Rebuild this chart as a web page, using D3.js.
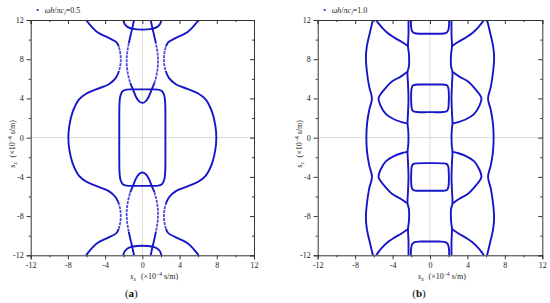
<!DOCTYPE html>
<html>
<head>
<meta charset="utf-8">
<script src="https://cdn.jsdelivr.net/npm/d3@7"></script>
<style>
  body { margin: 0; background: #fff; }
  svg { display: block; font-family: "Liberation Serif", "DejaVu Serif", serif; }
  .axis path, .axis line { stroke: #333; }
  .axis text { font-size: 8px; fill: #222; font-family: "Liberation Serif", serif; }
</style>
</head>
<body>
<div id="chart"></div>
<script>
// tick values shared by both panels
const majorTicks = [-12, -8, -4, 0, 4, 8, 12];
const minorTicks = [-10, -6, -2, 2, 6, 10];
const domain = [-12, 12];

// legend labels
const legendValues = ["0.5", "1.0"];
const panelLabels = ["a", "b"];

// curve points [sx, sz], one quarter each,
// the rest comes from the symmetry of the slowness curves
// panel (a): omega h / pi c_l = 0.5
const aOuter = [[-6.05, 12], [-4.9, 10.8], [-3.46, 10.1], [-2.75, 9.7], [-2.45, 9.0], [-2.32, 8.0],
  [-2.45, 7.0], [-2.85, 6.1], [-3.6, 5.45], [-4.9, 4.95], [-6.0, 4.5], [-6.8, 3.9], [-7.5, 2.6],
  [-7.85, 1.2], [-7.95, 0]];
const aOval = [[-2.48, 0], [-2.48, 2.0], [-2.45, 3.6], [-2.35, 4.3], [-2.1, 4.75], [-1.7, 4.9],
  [-1.0, 4.92], [0, 4.92]];
const aLens = [[-0.9, 12], [-1.05, 11.3], [-1.25, 10.5], [-1.5, 9.4], [-1.65, 8.5], [-1.68, 7.5],
  [-1.55, 6.5], [-1.3, 5.6], [-1.0, 4.9], [-0.7, 4.2], [-0.35, 3.7], [0, 3.55]];
const aArch = [[-2.05, 12], [-1.9, 11.6], [-1.6, 11.3], [-1.0, 11.1], [0, 11.02]];
// |sz| ranges where the traced points are sparse
const aOuterSparse = [6.8, 9.3];
const aLensSparse = [5.6, 9.6];

// panel (b): omega h / pi c_l = 1.0
const bOuter = [[-6.1, 12], [-6.45, 10.6], [-6.75, 9.3], [-6.85, 8.2], [-6.75, 6.8], [-6.5, 5.2],
  [-6.2, 4.0], [-6.5, 2.8], [-6.72, 1.5], [-6.8, 0]];
const bInner = [[-2.3, 12], [-2.3, 10.5], [-2.35, 9.3], [-2.25, 8.5], [-2.25, 7.3], [-2.4, 6.7],
  [-2.35, 5.5], [-2.3, 4.0], [-2.35, 2.5], [-2.4, 1.45], [-2.33, 0.8], [-2.3, 0]];
const bWing = [[-2.3, 9.3], [-3.0, 9.75], [-3.8, 10.2], [-4.5, 10.65], [-5.1, 11.2], [-5.5, 11.65],
  [-5.75, 12]];
const bChevron = [[-2.45, 6.7], [-3.1, 6.25], [-4.1, 5.7], [-4.8, 5.0], [-5.3, 4.4], [-5.5, 4.0],
  [-5.3, 3.3], [-4.7, 2.4], [-3.8, 1.85], [-2.9, 1.55], [-2.45, 1.45]];
const bRect = [[0, 5.42], [-1.0, 5.42], [-1.6, 5.4], [-1.85, 5.3], [-1.97, 5.0], [-2.02, 4.3],
  [-2.0, 3.5], [-1.95, 2.95], [-1.8, 2.7], [-1.4, 2.62], [0, 2.6]];
const bCap = [[-2.05, 12], [-2.02, 11.3], [-1.9, 10.85], [-1.65, 10.65], [-1.0, 10.6], [0, 10.6]];

const panels = [
  { curves: [[aOuter, "y", aOuterSparse], [aOval, "loop"], [aLens, "x", aLensSparse], [aArch, "x"]],
    left: 30.7, right: 254, top: 20, bottom: 255.3, label: panelLabels[0], legend: legendValues[0] },
  { curves: [[bOuter, "y"], [bInner, "y"], [bWing, "none"], [bChevron, "none"], [bRect, "xx"], [bCap, "x"]],
    left: 317.7, right: 542.3, top: 20, bottom: 255.3, label: panelLabels[1], legend: legendValues[1] }
];

const blue = "#1616c8";
const paleBlue = "#4a4ade";

// expand a quarter curve into full curves by mirroring
function expand(q, mode) {
  const mx = p => [-p[0], p[1]], my = p => [p[0], -p[1]], mxy = p => [-p[0], -p[1]];
  const rev = a => a.slice().reverse();
  if (mode === "loop") {
    return [[...q, ...rev(q).map(mx).slice(1), ...q.map(mxy).slice(1), ...rev(q).map(my).slice(1)]];
  }
  if (mode === "y") {
    const half = [...q, ...rev(q).map(my).slice(1)];
    return [half, half.map(mx)];
  }
  if (mode === "x" || mode === "xx") {
    const half = [...q, ...rev(q).map(mx).slice(1)];
    return [half, half.map(my)];
  }
  return [q, q.map(mx), q.map(my), q.map(mxy)];
}

const svg = d3.select("#chart").append("svg")
  .attr("width", 550)
  .attr("height", 303);
const defs = svg.append("defs");

panels.forEach((p, i) => {
  const x = d3.scaleLinear().domain(domain).range([p.left, p.right]);
  const y = d3.scaleLinear().domain(domain).range([p.bottom, p.top]);
  const g = svg.append("g");
  const w = p.right - p.left;

  const clipId = "clip" + i;
  defs.append("clipPath").attr("id", clipId)
    .append("rect")
    .attr("x", p.left).attr("y", p.top)
    .attr("width", w).attr("height", p.bottom - p.top);

  // zero lines
  g.append("line")
    .attr("x1", x(0)).attr("x2", x(0)).attr("y1", p.top).attr("y2", p.bottom)
    .attr("stroke", "#cfcfcf").attr("stroke-width", 0.8);
  g.append("line")
    .attr("x1", p.left).attr("x2", p.right).attr("y1", y(0)).attr("y2", y(0))
    .attr("stroke", "#cfcfcf").attr("stroke-width", 0.8);

  // curves
  const line = d3.line()
    .x(d => x(d[0]))
    .y(d => y(d[1]))
    .curve(d3.curveCatmullRom.alpha(0.5));

  const plot = g.append("g").attr("clip-path", `url(#${clipId})`);

  p.curves.forEach(([q, mode, sparse], j) => {
    const paths = expand(q, mode);
    if (!sparse) {
      plot.selectAll(null).data(paths).join("path")
        .attr("d", line)
        .attr("fill", "none")
        .attr("stroke", blue)
        .attr("stroke-width", 1.9)
        .attr("stroke-linejoin", "round");
      return;
    }
    // split into dense part (solid) and sparse band (broken, paler)
    const [lo, hi] = sparse;
    const denseBands = [[12.5, hi], [lo, -lo], [-hi, -12.5]];
    const sparseBands = [[hi, lo], [-lo, -hi]];
    const denseId = `dense${i}_${j}`, sparseId = `sparse${i}_${j}`;
    defs.append("clipPath").attr("id", denseId)
      .selectAll("rect").data(denseBands).join("rect")
      .attr("x", p.left).attr("width", w)
      .attr("y", d => y(d[0])).attr("height", d => y(d[1]) - y(d[0]));
    defs.append("clipPath").attr("id", sparseId)
      .selectAll("rect").data(sparseBands).join("rect")
      .attr("x", p.left).attr("width", w)
      .attr("y", d => y(d[0])).attr("height", d => y(d[1]) - y(d[0]));
    plot.append("g").attr("clip-path", `url(#${denseId})`)
      .selectAll("path").data(paths).join("path")
      .attr("d", line)
      .attr("fill", "none")
      .attr("stroke", blue)
      .attr("stroke-width", 1.9);
    plot.append("g").attr("clip-path", `url(#${sparseId})`)
      .selectAll("path").data(paths).join("path")
      .attr("d", line)
      .attr("fill", "none")
      .attr("stroke", paleBlue)
      .attr("stroke-width", 1.8)
      .attr("stroke-dasharray", "3,1");
  });

  // axes, left/bottom with labels, top/right mirrored inward
  const fmt = d => String(d);
  g.append("g").attr("class", "axis")
    .attr("transform", `translate(0,${p.bottom})`)
    .call(d3.axisBottom(x).tickValues(majorTicks).tickSize(4).tickPadding(3).tickFormat(fmt));
  g.append("g").attr("class", "axis")
    .attr("transform", `translate(0,${p.bottom})`)
    .call(d3.axisBottom(x).tickValues(minorTicks).tickSize(2).tickFormat(""))
    .select(".domain").remove();
  g.append("g").attr("class", "axis")
    .attr("transform", `translate(${p.left},0)`)
    .call(d3.axisLeft(y).tickValues(majorTicks).tickSize(4).tickPadding(3).tickFormat(fmt));
  g.append("g").attr("class", "axis")
    .attr("transform", `translate(${p.left},0)`)
    .call(d3.axisLeft(y).tickValues(minorTicks).tickSize(2).tickFormat(""))
    .select(".domain").remove();
  g.append("g").attr("class", "axis")
    .attr("transform", `translate(0,${p.top})`)
    .call(d3.axisBottom(x).tickValues(majorTicks).tickSize(4).tickFormat(""));
  g.append("g").attr("class", "axis")
    .attr("transform", `translate(0,${p.top})`)
    .call(d3.axisBottom(x).tickValues(minorTicks).tickSize(2).tickFormat(""))
    .select(".domain").remove();
  g.append("g").attr("class", "axis")
    .attr("transform", `translate(${p.right},0)`)
    .call(d3.axisLeft(y).tickValues(majorTicks).tickSize(4).tickFormat(""));
  g.append("g").attr("class", "axis")
    .attr("transform", `translate(${p.right},0)`)
    .call(d3.axisLeft(y).tickValues(minorTicks).tickSize(2).tickFormat(""))
    .select(".domain").remove();

  // x title
  const xt = g.append("text")
    .attr("x", x(0) - 12).attr("y", 279)
    .attr("font-size", 8).attr("fill", "#222");
  xt.append("tspan").attr("font-style", "italic").text("s");
  xt.append("tspan").attr("font-style", "italic").attr("font-size", 5.5).attr("dy", 2).text("x");
  xt.append("tspan").attr("dy", -2).attr("dx", 5).text("(×10");
  xt.append("tspan").attr("font-size", 5.5).attr("dy", -3).text("−4");
  xt.append("tspan").attr("dy", 3).text(" s/m)");

  // y title
  const yt = g.append("text")
    .attr("transform", `translate(${p.left - 16},${(p.top + p.bottom) / 2 + 30}) rotate(-90)`)
    .attr("font-size", 8).attr("fill", "#222");
  yt.append("tspan").attr("font-style", "italic").text("s");
  yt.append("tspan").attr("font-style", "italic").attr("font-size", 5.5).attr("dy", 2).text("z");
  yt.append("tspan").attr("dy", -2).attr("dx", 5).text("(×10");
  yt.append("tspan").attr("font-size", 5.5).attr("dy", -3).text("−4");
  yt.append("tspan").attr("dy", 3).text(" s/m)");

  // legend
  g.append("circle")
    .attr("cx", p.left + 7).attr("cy", 10).attr("r", 1)
    .attr("fill", blue);
  const lt = g.append("text")
    .attr("x", p.left + 14).attr("y", 12.5)
    .attr("font-size", 8).attr("fill", "#222");
  lt.append("tspan").attr("font-style", "italic").text("ωh");
  lt.append("tspan").text("/");
  lt.append("tspan").attr("font-style", "italic").text("πc");
  lt.append("tspan").attr("font-style", "italic").attr("font-size", 5.5).attr("dy", 2).text("l");
  lt.append("tspan").attr("dy", -2).text("=" + p.legend);

  // panel caption
  const cap = g.append("text")
    .attr("x", x(0) - 11).attr("y", 297)
    .attr("text-anchor", "middle")
    .attr("font-size", 11).attr("fill", "#111");
  cap.append("tspan").text("(");
  cap.append("tspan").attr("font-weight", "bold").text(p.label);
  cap.append("tspan").text(")");
});
</script>
</body>
</html>
